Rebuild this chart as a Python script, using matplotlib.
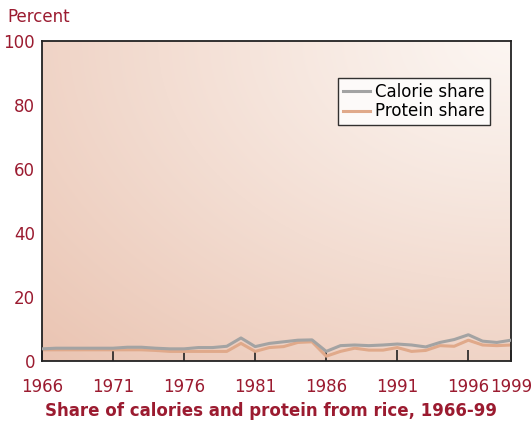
import matplotlib.pyplot as plt
import numpy as np

years = list(range(1966, 2000))
calorie = [3.8, 4.0, 4.0, 4.0, 4.0, 4.0, 4.3, 4.3, 4.0, 3.8, 3.8, 4.2, 4.2, 4.6, 7.2, 4.5,
           5.5, 6.0, 6.5, 6.6, 3.0, 4.8, 5.0, 4.8, 5.0, 5.3, 5.0, 4.4, 5.8, 6.7, 8.2, 6.2,
           5.8, 6.5]
protein = [3.5, 3.5, 3.5, 3.5, 3.5, 3.5, 3.5, 3.5, 3.3, 3.0, 3.0, 3.0, 3.0, 3.0, 5.5, 3.0,
           4.2, 4.5, 5.8, 6.0, 1.5, 3.0, 4.0, 3.4, 3.4, 4.2, 3.0, 3.3, 4.8, 4.6, 6.5, 5.0,
           4.8, 5.0]
xticks = [1966, 1971, 1976, 1981, 1986, 1991, 1996, 1999]
yticks = [0, 20, 40, 60, 80, 100]

red = '#9b1b30'
fig = plt.figure(figsize=(5.31, 4.23), dpi=100)
ax = fig.add_axes([42 / 531, 62 / 423, 469 / 531, 320 / 423])

# radial gradient background, light in the upper right
gx, gy = np.meshgrid(np.linspace(0, 1, 300), np.linspace(0, 1, 300))
r = np.sqrt((gx - 1.0) ** 2 + (gy - 1.0) ** 2) / np.sqrt(2)
light = np.array([252, 246, 242]) / 255
dark = np.array([234, 196, 178]) / 255
img = light + (dark - light) * np.clip(r, 0, 1)[..., None] ** 1.1
ax.imshow(img, extent=[0, 1, 0, 1], origin='lower', transform=ax.transAxes,
          aspect='auto', zorder=0)

ax.plot(years, calorie, color='#a3a3a3', lw=2.2, label='Calorie share', zorder=3)
ax.plot(years, protein, color='#e0a98a', lw=2.2, label='Protein share', zorder=2)

ax.set_xlim(1966, 1999)
ax.set_ylim(0, 100)
ax.set_xticks(xticks)
ax.set_yticks(yticks)
ax.tick_params(axis='x', direction='in', length=8, width=1.2, colors='#222222',
               labelcolor=red, labelsize=12, pad=12)
ax.tick_params(axis='y', length=0, labelcolor=red, labelsize=12, pad=5)
for s in ax.spines.values():
    s.set_color('#222222')
    s.set_linewidth(1.3)

ax.text(-0.073, 1.06, 'Percent', transform=ax.transAxes, color=red, fontsize=12)
fig.text(0.51, 0.017, 'Share of calories and protein from rice, 1966-99', ha='center',
         color=red, fontsize=12, fontweight='bold')

leg = ax.legend(loc='upper right', bbox_to_anchor=(0.955, 0.885), fontsize=12,
                frameon=True, fancybox=False, handlelength=1.6, handletextpad=0.3,
                borderpad=0.3, labelspacing=0.1, borderaxespad=0)
leg.get_frame().set_edgecolor('black')
leg.get_frame().set_linewidth(1.0)
leg.get_frame().set_facecolor('white')

fig.savefig('out.png', dpi=100)
